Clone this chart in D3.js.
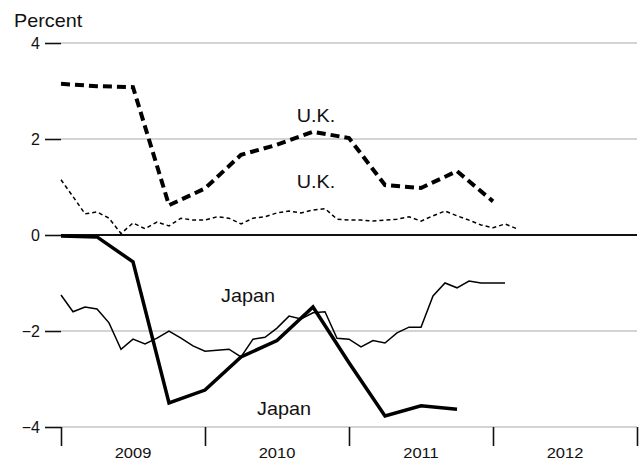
<!DOCTYPE html>
<html>
<head>
<meta charset="utf-8">
<script src="https://cdn.jsdelivr.net/npm/d3@7"></script>
<style>
  body { margin: 0; background: #fff; }
  text { font-family: "Liberation Sans", Arial, sans-serif; fill: #111; }
</style>
</head>
<body>
<div id="chart"></div>
<script>
// chart size
const width = 642, height = 462;

// data (percent), monthly and quarterly series starting January 2009
const years = [2009, 2010, 2011, 2012];
const yTicks = [4, 2, 0, -2, -4];
const ukQuarterly = [3.15, 3.10, 3.08, 0.62, 0.97, 1.67, 1.88, 2.15, 2.02, 1.04, 0.98, 1.33, 0.70];
const japanQuarterly = [-0.02, -0.04, -0.56, -3.50, -3.23, -2.54, -2.20, -1.50, -2.66, -3.77, -3.56, -3.63];
const ukMonthly = [1.15, 0.80, 0.44, 0.48, 0.35, 0.03, 0.25, 0.13, 0.27, 0.19, 0.35, 0.31,
    0.31, 0.38, 0.35, 0.23, 0.35, 0.38, 0.46, 0.50, 0.46, 0.52, 0.55, 0.33,
    0.31, 0.31, 0.29, 0.31, 0.33, 0.38, 0.29, 0.40, 0.50, 0.40, 0.31, 0.21,
    0.15, 0.23, 0.13];
const japanMonthly = [-1.25, -1.60, -1.50, -1.54, -1.83, -2.38, -2.17, -2.27, -2.15, -2.00, -2.15, -2.31,
    -2.42, -2.40, -2.38, -2.54, -2.17, -2.13, -1.94, -1.69, -1.75, -1.62, -1.60, -2.15,
    -2.17, -2.33, -2.20, -2.25, -2.04, -1.92, -1.92, -1.27, -1.00, -1.10, -0.96, -1.00,
    -1.00, -1.00];

// scales
let x = d3.scaleLinear().domain([2009, 2013]).range([61, 637]);
let y = d3.scaleLinear().domain([-4, 4]).range([427, 43]);

// the original type is a little wider than Liberation Sans
const stretch = 1.1;

let svg = d3.select("#chart")
    .append("svg")
    .attr("width", width)
    .attr("height", height);

// gridlines
svg.append("g")
    .selectAll("line")
    .data(yTicks.filter(d => d != 0))
    .enter()
    .append("line")
    .attr("x1", x(2009))
    .attr("x2", x(2013))
    .attr("y1", d => y(d))
    .attr("y2", d => y(d))
    .attr("stroke", "#c6c6c6")
    .attr("stroke-width", 1.6);

// y axis: ticks on the left only
let yAxis = svg.append("g")
    .attr("transform", `translate(${x(2009)}, 0)`)
    .call(d3.axisLeft(y).tickValues(yTicks).tickSize(16).tickPadding(5));
yAxis.select(".domain").remove();
yAxis.selectAll(".tick line").attr("stroke", "#111").attr("stroke-width", 1.6);
yAxis.selectAll(".tick text")
    .style("font-size", "16px")
    .style("font-family", "Liberation Sans, Arial, sans-serif")
    .attr("fill", "#111");

// zero line
svg.append("line")
    .attr("x1", x(2009))
    .attr("x2", x(2013))
    .attr("y1", y(0))
    .attr("y2", y(0))
    .attr("stroke", "#111")
    .attr("stroke-width", 2);

// x axis: year boundaries as ticks, labels centred in each year
let xAxis = svg.append("g")
    .attr("transform", `translate(0, ${y(-4)})`)
    .call(d3.axisBottom(x).tickValues(d3.range(2009, 2014)).tickSize(19).tickFormat(""));
xAxis.select(".domain").remove();
xAxis.selectAll(".tick line").attr("stroke", "#111").attr("stroke-width", 1.6);

svg.append("g")
    .selectAll("text")
    .data(years)
    .enter()
    .append("text")
    .attr("transform", d => `translate(${x(d + 0.5)}, 458) scale(${stretch}, 1)`)
    .style("text-anchor", "middle")
    .style("font-size", "15px")
    .text(d => d);

// axis title
svg.append("text")
    .attr("transform", `translate(14, 27) scale(${stretch}, 1)`)
    .style("font-size", "18px")
    .text("Percent");

// lines
let monthLine = d3.line().x((d, i) => x(2009 + i / 12)).y(d => y(d));
let quarterLine = d3.line().x((d, i) => x(2009 + i / 4)).y(d => y(d));

svg.append("path")
    .datum(japanMonthly)
    .attr("d", monthLine)
    .attr("fill", "none")
    .attr("stroke", "#000")
    .attr("stroke-width", 1.5);

svg.append("path")
    .datum(ukMonthly)
    .attr("d", monthLine)
    .attr("fill", "none")
    .attr("stroke", "#000")
    .attr("stroke-width", 1.5)
    .attr("stroke-dasharray", "4,3");

svg.append("path")
    .datum(japanQuarterly)
    .attr("d", quarterLine)
    .attr("fill", "none")
    .attr("stroke", "#000")
    .attr("stroke-width", 3.5);

svg.append("path")
    .datum(ukQuarterly)
    .attr("d", quarterLine)
    .attr("fill", "none")
    .attr("stroke", "#000")
    .attr("stroke-width", 4)
    .attr("stroke-dasharray", "9,5");

// series labels
let labels = [
    {text: "U.K.", x: 316, y: 122},
    {text: "U.K.", x: 316, y: 188},
    {text: "Japan", x: 248, y: 302},
    {text: "Japan", x: 284, y: 415}
];
svg.append("g")
    .selectAll("text")
    .data(labels)
    .enter()
    .append("text")
    .attr("transform", d => `translate(${d.x}, ${d.y}) scale(${stretch}, 1)`)
    .style("text-anchor", "middle")
    .style("font-size", "18px")
    .text(d => d.text);
</script>
</body>
</html>
